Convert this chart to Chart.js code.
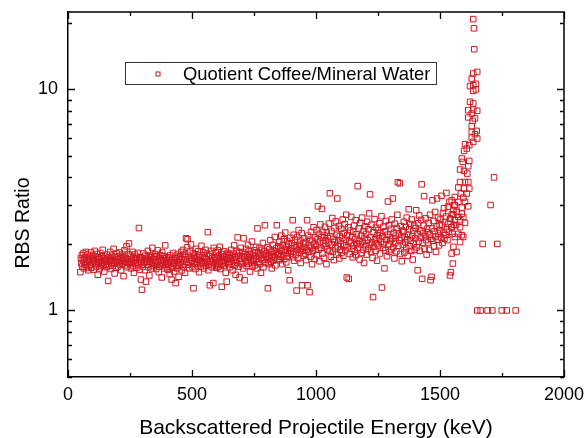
<!DOCTYPE html>
<html>
<head>
<meta charset="utf-8">
<script src="https://cdn.jsdelivr.net/npm/chart.js@4.4.0/dist/chart.umd.min.js"></script>
<style>
  html, body { margin: 0; padding: 0; background: #fff; }
  #wrap { width: 585px; height: 438px; }
</style>
</head>
<body>
<div id="wrap"><canvas id="rbs" width="585" height="438"></canvas></div>
<script>
const seriesLabel = 'Quotient Coffee/Mineral Water';
const xTitle = 'Backscattered Projectile Energy (keV)';
const yTitle = 'RBS Ratio';
const xTickLabels = [0, 500, 1000, 1500, 2000];
const yTickLabels = [1, 10];

// channel energies (keV) of the flat part of the spectrum
const bandEnergy = [
  50, 52, 54, 56, 58, 60, 62, 64, 66, 68, 70, 72, 74, 76, 78, 80, 82, 84, 86, 88, 90, 92, 94, 96, 98,
  100, 102, 104, 106, 108, 110, 112, 114, 116, 118, 120, 122, 124, 126, 128, 130, 132, 134, 136, 138, 140, 142, 144, 146, 148,
  150, 152, 154, 156, 158, 160, 162, 164, 166, 168, 170, 172, 174, 176, 178, 180, 182, 184, 186, 188, 190, 192, 194, 196, 198,
  200, 202, 204, 206, 208, 210, 212, 214, 216, 218, 220, 222, 224, 226, 228, 230, 232, 234, 236, 238, 240, 242, 244, 246, 248,
  250, 252, 254, 256, 258, 260, 262, 264, 266, 268, 270, 272, 274, 276, 278, 280, 282, 284, 286, 288, 290, 292, 294, 296, 298,
  300, 302, 304, 306, 308, 310, 312, 314, 316, 318, 320, 322, 324, 326, 328, 330, 332, 334, 336, 338, 340, 342, 344, 346, 348,
  350, 352, 354, 356, 358, 360, 362, 364, 366, 368, 370, 372, 374, 376, 378, 380, 382, 384, 386, 388, 390, 392, 394, 396, 398,
  400, 402, 404, 406, 408, 410, 412, 414, 416, 418, 420, 422, 424, 426, 428, 430, 432, 434, 436, 438, 440, 442, 444, 446, 448,
  450, 452, 454, 456, 458, 460, 462, 464, 466, 468, 470, 472, 474, 476, 478, 480, 482, 484, 486, 488, 490, 492, 494, 496, 498,
  500, 502, 504, 506, 508, 510, 512, 514, 516, 518, 520, 522, 524, 526, 528, 530, 532, 534, 536, 538, 540, 542, 544, 546, 548,
  550, 552, 554, 556, 558, 560, 562, 564, 566, 568, 570, 572, 574, 576, 578, 580, 582, 584, 586, 588, 590, 592, 594, 596, 598,
  600, 602, 604, 606, 608, 610, 612, 614, 616, 618, 620, 622, 624, 626, 628, 630, 632, 634, 636, 638, 640, 642, 644, 646, 648,
  650, 652, 654, 656, 658, 660, 662, 664, 666, 668, 670, 672, 674, 676, 678, 680, 682, 684, 686, 688, 690, 692, 694, 696, 698,
  700, 702, 704, 706, 708, 710, 712, 714, 716, 718, 720, 722, 724, 726, 728, 730, 732, 734, 736, 738, 740, 742, 744, 746, 748,
  750, 752, 754, 756, 758, 760, 762, 764, 766, 768, 770, 772, 774, 776, 778, 780, 782, 784, 786, 788, 790, 792, 794, 796, 798,
  800, 802, 804, 806, 808, 810, 812, 814, 816, 818, 820, 822, 824, 826, 828, 830, 832, 834, 836, 838, 840, 842, 844, 846, 848,
  850, 852, 854, 856, 858, 860, 862, 864, 866, 868, 870, 872, 874, 876, 878, 880, 882, 884, 886, 888, 890, 892, 894, 896, 898,
  900, 902, 904, 906, 908, 910, 912, 914, 916, 918, 920, 922, 924, 926, 928, 930, 932, 934, 936, 938, 940, 942, 944, 946, 948,
  950, 952, 954, 956, 958, 960, 962, 964, 966, 968, 970, 972, 974, 976, 978, 980, 982, 984, 986, 988, 990, 992, 994, 996, 998,
  1000, 1002, 1004, 1006, 1008, 1010, 1012, 1014, 1016, 1018, 1020, 1022, 1024, 1026, 1028, 1030, 1032, 1034, 1036, 1038, 1040, 1042, 1044, 1046, 1048,
  1050, 1052, 1054, 1056, 1058, 1060, 1062, 1064, 1066, 1068, 1070, 1072, 1074, 1076, 1078, 1080, 1082, 1084, 1086, 1088, 1090, 1092, 1094, 1096, 1098,
  1100, 1102, 1104, 1106, 1108, 1110, 1112, 1114, 1116, 1118, 1120, 1122, 1124, 1126, 1128, 1130, 1132, 1134, 1136, 1138, 1140, 1142, 1144, 1146, 1148,
  1150, 1152, 1154, 1156, 1158, 1160, 1162, 1164, 1166, 1168, 1170, 1172, 1174, 1176, 1178, 1180, 1182, 1184, 1186, 1188, 1190, 1192, 1194, 1196, 1198,
  1200, 1202, 1204, 1206, 1208, 1210, 1212, 1214, 1216, 1218, 1220, 1222, 1224, 1226, 1228, 1230, 1232, 1234, 1236, 1238, 1240, 1242, 1244, 1246, 1248,
  1250, 1252, 1254, 1256, 1258, 1260, 1262, 1264, 1266, 1268, 1270, 1272, 1274, 1276, 1278, 1280, 1282, 1284, 1286, 1288, 1290, 1292, 1294, 1296, 1298,
  1300, 1302, 1304, 1306, 1308, 1310, 1312, 1314, 1316, 1318, 1320, 1322, 1324, 1326, 1328, 1330, 1332, 1334, 1336, 1338, 1340, 1342, 1344, 1346, 1348,
  1350, 1352, 1354, 1356, 1358, 1360, 1362, 1364, 1366, 1368, 1370, 1372, 1374, 1376, 1378, 1380, 1382, 1384, 1386, 1388, 1390, 1392, 1394, 1396, 1398,
  1400, 1402, 1404, 1406, 1408, 1410, 1412, 1414, 1416, 1418, 1420, 1422, 1424, 1426, 1428, 1430, 1432, 1434, 1436, 1438, 1440, 1442, 1444, 1446, 1448,
  1450, 1452, 1454, 1456, 1458, 1460, 1462, 1464, 1466, 1468, 1470, 1472, 1474, 1476, 1478, 1480, 1482, 1484, 1486, 1488, 1490, 1492, 1494, 1496, 1498,
  1500, 1502, 1504, 1506, 1508, 1510, 1512, 1514, 1516, 1518, 1520, 1522, 1524, 1526, 1528, 1530, 1532, 1534, 1536, 1538, 1540, 1542, 1544, 1546, 1548,
  1550, 1552, 1554, 1556, 1558, 1560
];

const bandRatio = [
  1.49, 1.72, 1.63, 1.78, 1.58, 1.69, 1.81, 1.55, 1.66, 1.74, 1.61, 1.84, 1.70, 1.57, 1.65, 1.79, 1.52, 1.68, 1.75, 1.60, 1.71, 1.83, 1.56, 1.67, 1.73,
  1.64, 1.77, 1.53, 1.69, 1.86, 1.62, 1.71, 1.58, 1.80, 1.66, 1.45, 1.74, 1.63, 1.70, 1.55, 1.82, 1.67, 1.59, 1.76, 1.64, 1.88, 1.61, 1.72, 1.50, 1.68,
  1.75, 1.62, 1.70, 1.57, 1.79, 1.66, 1.36, 1.73, 1.60, 1.68, 1.84, 1.54, 1.71, 1.65, 1.77, 1.59, 1.69, 1.90, 1.63, 1.47, 1.74, 1.67, 1.56, 1.81, 1.64,
  1.70, 1.58, 1.76, 1.65, 1.83, 1.61, 1.72, 1.52, 1.68, 1.79, 1.63, 1.74, 1.43, 1.69, 1.87, 1.60, 1.73, 1.66, 1.95, 1.57, 1.71, 1.64, 1.80, 2.01, 1.67,
  1.62, 1.77, 1.55, 1.70, 1.66, 1.84, 1.59, 1.73, 1.48, 1.68, 1.79, 1.63, 1.71, 1.56, 1.75, 1.65, 1.82, 1.60, 2.36, 1.69, 1.53, 1.74, 1.38, 1.66, 1.24,
  1.72, 1.58, 1.81, 1.64, 1.69, 1.52, 1.77, 1.35, 1.66, 1.73, 1.61, 1.86, 1.57, 1.70, 1.44, 1.67, 1.78, 1.62, 1.74, 1.55, 1.92, 1.65, 1.71, 1.59, 1.76,
  1.63, 1.80, 1.68, 1.54, 1.75, 1.61, 1.87, 1.66, 1.49, 1.72, 1.58, 1.78, 1.64, 1.70, 1.41, 1.83, 1.60, 1.69, 1.76, 1.55, 1.67, 1.97, 1.62, 1.73, 1.57,
  1.66, 1.53, 1.74, 1.61, 1.69, 1.46, 1.78, 1.58, 1.65, 1.38, 1.71, 1.56, 1.82, 1.63, 1.50, 1.68, 1.75, 1.33, 1.60, 1.72, 1.55, 1.79, 1.64, 1.42, 1.70,
  1.59, 1.76, 1.65, 1.84, 1.52, 1.71, 1.62, 1.88, 1.57, 1.69, 1.80, 1.48, 1.74, 2.12, 1.66, 1.93, 2.10, 1.61, 1.77, 1.55, 1.70, 1.85, 1.64, 1.99, 1.73,
  1.68, 1.57, 1.81, 1.26, 1.72, 1.63, 1.77, 1.54, 1.90, 1.66, 1.74, 1.60, 1.85, 1.69, 1.49, 1.78, 1.64, 1.71, 1.58, 1.96, 1.67, 1.75, 1.62, 1.83, 1.55,
  1.73, 1.64, 1.88, 1.59, 1.70, 1.81, 1.66, 2.26, 1.52, 1.76, 1.62, 1.30, 1.79, 1.68, 1.86, 1.57, 1.72, 1.65, 1.33, 1.92, 1.60, 1.74, 1.69, 1.83, 1.56,
  1.71, 1.63, 1.87, 1.58, 1.77, 1.66, 1.94, 1.54, 1.73, 1.61, 1.28, 1.80, 1.67, 1.75, 1.59, 1.85, 1.70, 1.64, 1.48, 1.78, 1.35, 1.69, 1.82, 1.62, 1.74,
  1.66, 1.79, 1.57, 1.72, 1.88, 1.63, 1.75, 1.52, 1.81, 1.68, 1.97, 1.60, 1.74, 1.45, 1.70, 1.86, 1.64, 2.14, 1.77, 1.58, 1.83, 1.41, 1.71, 1.92, 1.67,
  1.62, 1.76, 1.84, 1.55, 2.12, 1.73, 1.37, 1.80, 1.66, 1.90, 1.59, 1.77, 1.69, 1.98, 1.63, 1.74, 1.85, 1.50, 1.71, 1.79, 1.65, 2.05, 1.58, 1.82, 1.72,
  1.68, 1.87, 1.60, 1.77, 1.94, 1.71, 1.55, 2.35, 1.83, 1.66, 1.76, 1.92, 1.62, 1.80, 1.48, 1.73, 1.88, 1.69, 2.02, 1.57, 1.78, 1.85, 2.43, 1.64, 1.75,
  1.81, 1.70, 1.93, 1.26, 1.76, 1.62, 1.89, 1.72, 2.08, 1.66, 1.84, 1.55, 1.79, 1.98, 1.68, 1.86, 1.74, 2.15, 1.60, 1.82, 1.91, 2.43, 1.71, 1.78, 1.95,
  1.80, 2.04, 1.69, 1.92, 1.75, 2.18, 1.86, 1.62, 1.97, 1.78, 2.10, 1.71, 1.89, 2.25, 1.83, 1.65, 1.94, 2.06, 1.76, 1.52, 1.99, 1.87, 1.37, 2.13, 1.81,
  1.91, 2.02, 1.74, 2.56, 1.85, 2.20, 1.68, 1.96, 2.09, 1.79, 1.93, 1.23, 2.15, 1.88, 1.72, 2.31, 1.98, 1.83, 2.07, 1.64, 1.90, 2.24, 1.30, 1.86, 2.01,
  1.77, 2.12, 1.94, 1.81, 2.03, 1.69, 1.88, 2.56, 1.30, 2.18, 1.84, 1.97, 1.21, 2.09, 1.75, 2.27, 1.92, 1.62, 2.05, 1.86, 2.38, 1.99, 1.71, 2.14, 1.89,
  1.96, 2.31, 1.78, 2.10, 2.96, 1.88, 2.22, 1.67, 2.05, 2.45, 1.92, 2.14, 2.88, 1.81, 2.27, 2.01, 1.73, 2.18, 2.39, 1.95, 2.08, 1.62, 2.25, 1.89, 2.12,
  2.03, 2.47, 1.86, 3.39, 2.16, 1.75, 2.29, 1.98, 2.62, 1.84, 2.11, 1.69, 2.36, 2.04, 1.91, 2.53, 1.79, 2.20, 3.21, 1.95, 2.08, 2.41, 1.72, 2.17, 1.88,
  2.00, 2.34, 1.83, 2.13, 2.58, 1.77, 2.24, 1.96, 2.46, 1.87, 2.09, 2.71, 1.41, 2.19, 1.93, 2.38, 1.39, 2.06, 1.80, 2.30, 2.02, 2.65, 1.90, 2.15, 1.74,
  2.27, 1.97, 2.42, 1.85, 2.11, 2.56, 1.78, 2.21, 2.01, 3.65, 1.92, 2.35, 2.07, 1.70, 2.49, 1.99, 2.18, 1.82, 2.63, 2.04, 1.88, 2.29, 1.64, 2.13, 2.40,
  1.95, 2.22, 1.79, 2.52, 2.08, 1.90, 2.33, 2.75, 1.98, 3.35, 2.14, 1.84, 2.44, 2.03, 1.73, 1.15, 2.26, 1.94, 2.59, 2.10, 1.86, 2.37, 2.01, 1.68, 2.19,
  2.31, 1.97, 2.12, 2.48, 1.81, 2.24, 2.05, 2.67, 1.27, 2.16, 1.92, 2.39, 2.00, 1.55, 2.28, 1.87, 2.54, 2.09, 1.76, 2.20, 3.11, 1.99, 2.43, 1.84, 2.14,
  2.06, 2.34, 1.89, 2.58, 2.11, 3.21, 1.93, 2.25, 1.72, 2.47, 2.02, 2.18, 1.85, 2.36, 2.71, 3.80, 1.96, 2.23, 2.08, 3.76, 1.80, 2.41, 2.13, 1.67, 2.30,
  1.98, 2.27, 2.52, 1.83, 2.15, 2.04, 2.39, 1.91, 2.63, 2.10, 1.77, 2.20, 2.87, 2.33, 1.95, 2.46, 2.07, 1.86, 2.58, 2.17, 1.70, 2.29, 2.01, 2.42, 1.88,
  2.12, 2.36, 2.84, 1.93, 2.21, 1.52, 2.48, 2.05, 2.69, 1.86, 2.30, 2.14, 2.57, 3.72, 1.39, 2.02, 2.24, 2.42, 3.29, 1.90, 2.17, 2.61, 2.08, 1.79, 2.34,
  2.26, 2.03, 2.49, 1.88, 2.20, 2.71, 1.37, 2.11, 1.42, 2.35, 3.15, 2.07, 2.54, 1.95, 2.28, 2.79, 2.16, 1.84, 2.40, 3.21, 2.09, 2.63, 2.23, 1.97, 2.45,
  2.31, 2.58, 2.14, 3.30, 2.42, 2.02, 2.76, 2.25, 2.90, 2.11, 2.51, 2.19, 2.66, 3.40, 2.33, 2.08, 2.95, 2.47, 2.27, 3.10, 1.44, 2.60, 1.49, 2.38, 2.72,
  2.22, 1.63, 2.85, 2.44, 2.99, 2.56
];

// steep rise at the surface edge
const edgeEnergy = [
  1634, 1637, 1638, 1650, 1634, 1628, 1621, 1634, 1645, 1645, 1634,
  1621, 1634, 1614, 1634, 1650, 1628, 1614, 1641, 1632, 1628,
  1628, 1648, 1641, 1628, 1650, 1634, 1601, 1618, 1608, 1597,
  1588, 1592, 1618, 1614, 1581, 1597, 1610,
  1581, 1601, 1614, 1574, 1597, 1618, 1584, 1608, 1560, 1594, 1574, 1547, 1601, 1560, 1614, 1588,
  1567, 1588, 1554, 1574, 1594, 1540, 1560, 1581, 1601, 1565, 1547, 1581,
  1574, 1588, 1560, 1594, 1581, 1554, 1567, 1547
];
const edgeRatio = [
  20.8, 18.9, 15.2, 12.0, 11.8, 11.2, 10.35, 10.45, 10.6, 10.0, 9.85,
  8.79, 8.64, 8.06, 8.11, 8.0, 7.78, 7.47, 7.39, 7.21, 6.82,
  6.42, 6.49, 6.27, 6.06, 6.0, 5.79, 5.65, 5.59, 5.40, 5.27,
  4.87, 4.70, 4.75, 4.49, 4.34, 4.28, 4.16,
  3.81, 3.81, 3.81, 3.60, 3.56, 3.56, 3.38, 3.38, 3.26, 3.24, 3.10, 3.15, 3.10, 2.99, 2.96, 2.92,
  2.79, 2.74, 2.72, 2.65, 2.65, 2.60, 2.56, 2.56, 2.49, 2.43, 2.38, 2.38,
  2.22, 2.19, 2.15, 2.15, 2.04, 1.94, 1.84, 1.81
];

// sparse channels beyond the edge
const tailEnergy = [1672, 1704, 1718, 1731, 1650, 1664, 1692, 1711, 1749, 1769, 1805];
const tailRatio = [2, 3, 4, 2, 1, 1, 1, 1, 1, 1, 1];

const markerColor = 'rgb(210, 24, 34)';
const fontFamily = '"Liberation Sans", Arial, sans-serif';

const points = [];
[[bandEnergy, bandRatio], [edgeEnergy, edgeRatio], [tailEnergy, tailRatio]].forEach(([es, rs]) => {
  es.forEach((e, i) => points.push({ x: e, y: rs[i] }));
});

// inward tick marks on all four sides plus top/right frame
const frameTicks = {
  id: 'frameTicks',
  afterDraw(chart) {
    const { ctx, chartArea: a, scales: { x, y } } = chart;
    ctx.save();
    ctx.strokeStyle = '#000';
    ctx.lineWidth = 1.5;
    ctx.beginPath();
    ctx.moveTo(a.left, a.top);
    ctx.lineTo(a.right, a.top);
    ctx.lineTo(a.right, a.bottom);
    ctx.stroke();

    ctx.lineWidth = 1.3;
    ctx.beginPath();
    x.ticks.forEach(t => {
      const px = Math.round(x.getPixelForValue(t.value)) + 0.5;
      const len = xTickLabels.includes(t.value) ? 7 : 4;
      ctx.moveTo(px, a.bottom);
      ctx.lineTo(px, a.bottom - len);
      ctx.moveTo(px, a.top);
      ctx.lineTo(px, a.top + len);
    });
    y.ticks.forEach(t => {
      const mant = t.value / Math.pow(10, Math.floor(Math.log10(t.value) + 1e-9));
      if (Math.abs(mant - Math.round(mant)) > 1e-6) return;
      const py = Math.round(y.getPixelForValue(t.value)) + 0.5;
      const len = Math.round(mant) === 1 ? 7 : 4;
      ctx.moveTo(a.left, py);
      ctx.lineTo(a.left + len, py);
      ctx.moveTo(a.right, py);
      ctx.lineTo(a.right - len, py);
    });
    ctx.stroke();
    ctx.restore();
  }
};

// boxed legend inside the plot area and the vertical axis title
const boxLegend = {
  id: 'boxLegend',
  afterDraw(chart) {
    const { ctx } = chart;
    const ds = chart.data.datasets[0];
    ctx.save();
    ctx.strokeStyle = '#333';
    ctx.lineWidth = 1;
    ctx.strokeRect(125.5, 62.5, 311, 22);
    ctx.strokeStyle = ds.borderColor;
    ctx.strokeRect(156, 72, 4, 4);
    ctx.fillStyle = '#000';
    ctx.font = '18.4px ' + fontFamily;
    ctx.textBaseline = 'middle';
    ctx.fillText(ds.label, 183, 74.5);

    ctx.translate(24, 223);
    ctx.rotate(-Math.PI / 2);
    ctx.textAlign = 'center';
    ctx.font = '19.5px ' + fontFamily;
    ctx.fillText(yTitle, 0, 0);
    ctx.restore();
  }
};

new Chart(document.getElementById('rbs'), {
  type: 'scatter',
  data: {
    datasets: [{
      label: seriesLabel,
      data: points,
      pointStyle: 'rect',
      pointRadius: 3.9,
      pointBorderWidth: 1,
      borderColor: markerColor,
      backgroundColor: 'rgba(0,0,0,0)',
      pointHoverRadius: 3.9
    }]
  },
  options: {
    responsive: false,
    animation: false,
    devicePixelRatio: 1,
    layout: { padding: { top: 12, right: 21, left: 0, bottom: 0 } },
    plugins: {
      legend: { display: false },
      tooltip: { enabled: false }
    },
    scales: {
      x: {
        type: 'linear',
        min: 0,
        max: 2000,
        afterFit: s => {
          s.height = 61;
          s.paddingLeft = 0;
          s.paddingRight = 0;
        },
        grid: { display: false, drawTicks: false },
        border: { display: true, color: '#000', width: 1.5 },
        ticks: {
          stepSize: 250,
          autoSkip: false,
          maxRotation: 0,
          padding: 7,
          color: '#000',
          font: { family: fontFamily, size: 18 },
          callback: v => (xTickLabels.includes(v) ? String(v) : '')
        },
        title: {
          display: true,
          text: xTitle,
          color: '#000',
          font: { family: fontFamily, size: 21, lineHeight: 0.9 },
          padding: { top: 0, bottom: 0 }
        }
      },
      y: {
        type: 'logarithmic',
        min: 0.5,
        max: 22.4,
        afterFit: s => {
          s.width = 68;
          s.paddingTop = 0;
          s.paddingBottom = 0;
        },
        grid: { display: false, drawTicks: false },
        border: { display: true, color: '#000', width: 1.5 },
        ticks: {
          autoSkip: false,
          padding: 10,
          color: '#000',
          font: { family: fontFamily, size: 18 },
          callback: v => (yTickLabels.includes(v) ? String(v) : '')
        },
        title: { display: false }
      }
    }
  },
  plugins: [frameTicks, boxLegend]
});
</script>
</body>
</html>
